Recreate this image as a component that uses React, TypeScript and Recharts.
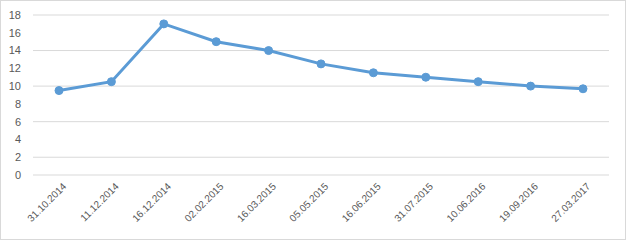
import { LineChart, Line, XAxis, YAxis, CartesianGrid } from 'recharts';

const dates = [
    '31.10.2014', '11.12.2014', '16.12.2014', '02.02.2015', '16.03.2015', '05.05.2015',
    '16.06.2015', '31.07.2015', '10.06.2016', '19.09.2016', '27.03.2017',
];
const values = [9.5, 10.5, 17, 15, 14, 12.5, 11.5, 11, 10.5, 10, 9.7];
const yTicks = [0, 2, 4, 6, 8, 10, 12, 14, 16, 18];

const data = dates.map((d, i) => ({ date: d, value: values[i] }));

const font = '"Liberation Sans", Arial, sans-serif';

export default function App() {
    return (
        <div style={{ position: 'absolute', left: 0, top: 0, width: 626, height: 242, background: '#fff' }}>
            <div
                style={{
                    position: 'absolute', left: 0, top: 0, width: 626, height: 240,
                    border: '1px solid #d9d9d9', boxSizing: 'border-box',
                }}
            />
            <LineChart
                width={626}
                height={242}
                data={data}
                margin={{ top: 15, right: 17, left: 0, bottom: 0 }}
                style={{ position: 'absolute', left: 0, top: 0 }}
            >
                <CartesianGrid stroke="#d9d9d9" vertical={false} />
                <XAxis
                    dataKey="date"
                    height={67}
                    tickLine={false}
                    axisLine={false}
                    tickSize={0}
                    tickMargin={7}
                    interval={0}
                    padding={{ left: 26, right: 26 }}
                    angle={-45}
                    textAnchor="end"
                    tick={{ fontSize: 10, fill: '#595959', fontFamily: font, dx: 3 }}
                />
                <YAxis
                    width={33}
                    domain={[0, 18]}
                    ticks={yTicks}
                    tickLine={false}
                    axisLine={false}
                    tickSize={0}
                    tickMargin={12}
                    tick={{ fontSize: 11, fill: '#595959', fontFamily: font }}
                />
                <Line
                    dataKey="value"
                    stroke="#5b9bd5"
                    strokeWidth={3}
                    dot={{ r: 4, fill: '#5b9bd5', stroke: '#5b9bd5', strokeWidth: 1 }}
                    isAnimationActive={false}
                />
            </LineChart>
        </div>
    );
}
